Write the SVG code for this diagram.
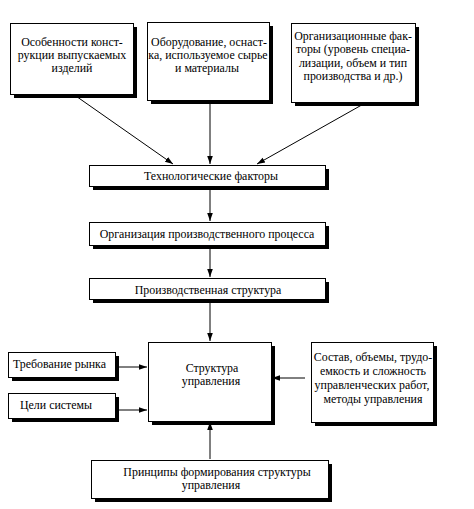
<svg xmlns="http://www.w3.org/2000/svg" width="474" height="509" viewBox="0 0 474 509">
<style>
.box{fill:#fff;stroke:#000;stroke-width:1}
.sh{fill:#000}
text{font-family:"Liberation Serif","Times New Roman",serif;font-size:11.9px;fill:#000}
.c{text-anchor:middle}
.ln{stroke:#000;stroke-width:1;fill:none;marker-end:url(#ah)}
</style>
<defs>
<marker id="ah" viewBox="0 0 10 10" refX="10" refY="5" markerWidth="8" markerHeight="8" markerUnits="userSpaceOnUse" orient="auto">
<path d="M0,1.5 L10,5 L0,8.5 z" fill="#000"/>
</marker>
</defs>
<rect width="474" height="509" fill="#fff"/>
<g id="connectors">
<line class="ln" x1="73" y1="94" x2="173" y2="164"/>
<line class="ln" x1="210" y1="100" x2="210" y2="164"/>
<line class="ln" x1="367" y1="102" x2="257" y2="164"/>
<line class="ln" x1="210" y1="186" x2="210" y2="221"/>
<line class="ln" x1="210" y1="245" x2="210" y2="277"/>
<line class="ln" x1="210" y1="299" x2="210" y2="341"/>
<line class="ln" x1="118" y1="367" x2="147" y2="367"/>
<line class="ln" x1="118" y1="410" x2="147" y2="410"/>
<line class="ln" x1="305" y1="378" x2="272" y2="378"/>
<line class="ln" x1="210" y1="459" x2="210" y2="422"/>
</g>
<g id="n1">
<rect class="sh" x="14" y="27" width="123" height="71"/>
<rect class="box" x="10.5" y="23.5" width="123" height="71"/>
<text class="c" x="72" y="46">Особенности конст-</text>
<text class="c" x="72" y="59">рукции выпускаемых</text>
<text class="c" x="72" y="72">изделий</text>
</g>
<g id="n2">
<rect class="sh" x="151" y="26" width="122" height="78"/>
<rect class="box" x="147.5" y="22.5" width="122" height="78"/>
<text class="c" x="209" y="46">Оборудование, оснаст-</text>
<text class="c" x="208" y="59">ка, используемое сырье</text>
<text class="c" x="207" y="72">и материалы</text>
</g>
<g id="n3">
<rect class="sh" x="295" y="27" width="124" height="79"/>
<rect class="box" x="291.5" y="23.5" width="124" height="79"/>
<text class="c" x="353" y="40">Организационные фак-</text>
<text class="c" x="353" y="53">торы (уровень специа-</text>
<text class="c" x="353" y="67">лизации, объем и тип</text>
<text class="c" x="353" y="80">производства и др.)</text>
</g>
<g id="n4">
<rect class="sh" x="93" y="169" width="236" height="21"/>
<rect class="box" x="89.5" y="165.5" width="236" height="21"/>
<text class="c" x="211" y="180">Технологические факторы</text>
</g>
<g id="n5">
<rect class="sh" x="93" y="226" width="236" height="23"/>
<rect class="box" x="89.5" y="222.5" width="236" height="23"/>
<text class="c" x="207" y="238">Организация производственного процесса</text>
</g>
<g id="n6">
<rect class="sh" x="93" y="282" width="236" height="21"/>
<rect class="box" x="89.5" y="278.5" width="236" height="21"/>
<text class="c" x="208" y="294">Производственная структура</text>
</g>
<g id="n7">
<rect class="sh" x="152" y="346" width="123" height="79"/>
<rect class="box" x="148.5" y="342.5" width="123" height="79"/>
<text class="c" x="212" y="372">Структура</text>
<text class="c" x="211" y="385">управления</text>
</g>
<g id="n8">
<rect class="sh" x="12" y="356" width="107" height="25"/>
<rect class="box" x="8.5" y="352.5" width="107" height="25"/>
<text x="13" y="368">Требование рынка</text>
</g>
<g id="n9">
<rect class="sh" x="12" y="397" width="107" height="25"/>
<rect class="box" x="8.5" y="393.5" width="107" height="25"/>
<text x="20" y="409">Цели системы</text>
</g>
<g id="n10">
<rect class="sh" x="315" y="346" width="122" height="80"/>
<rect class="box" x="311.5" y="342.5" width="122" height="80"/>
<text class="c" x="373" y="361">Состав, объемы, трудо-</text>
<text class="c" x="373" y="375">емкость и сложность</text>
<text class="c" x="372" y="389">управленческих работ,</text>
<text class="c" x="373" y="403">методы управления</text>
</g>
<g id="n11">
<rect class="sh" x="95" y="464" width="237" height="38"/>
<rect class="box" x="91.5" y="460.5" width="237" height="38"/>
<text class="c" x="217" y="476">Принципы формирования структуры</text>
<text class="c" x="211" y="489">управления</text>
</g>
</svg>
